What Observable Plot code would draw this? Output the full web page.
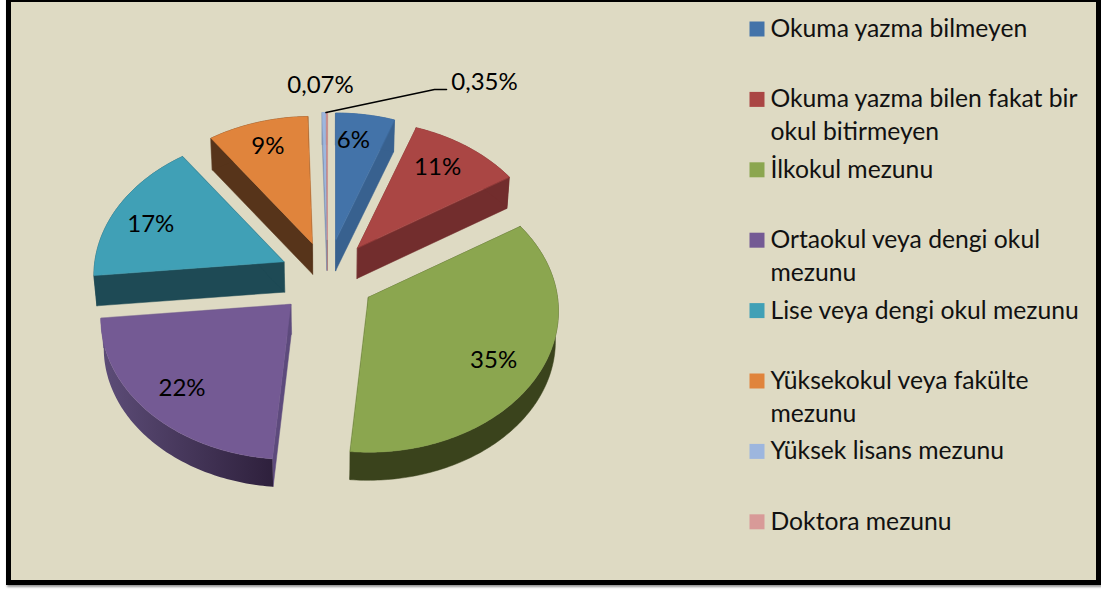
<!DOCTYPE html>
<html lang="tr">
<head>
<meta charset="utf-8">
<script src="https://cdn.jsdelivr.net/npm/d3@7"></script>
<script src="https://cdn.jsdelivr.net/npm/@observablehq/plot@0.6"></script>
<style>
html,body{margin:0;padding:0;background:#fff;overflow:hidden}
#frame{position:absolute;left:6px;top:-3px;width:1085px;height:578px;border:5px solid #000;background:#dedac3;box-shadow:1px 2px 2px #999}
#chart{position:absolute;left:0;top:0}
</style>
</head>
<body>
<div id="frame"></div>
<div id="chart"></div>
<script>
// ---- data ----
const categories = ["Okuma yazma bilmeyen","Okuma yazma bilen fakat bir okul bitirmeyen","İlkokul mezunu","Ortaokul veya dengi okul mezunu","Lise veya dengi okul mezunu","Yüksekokul veya fakülte mezunu","Yüksek lisans mezunu","Doktora mezunu"];
const legendLines = [["Okuma yazma bilmeyen"],["Okuma yazma bilen fakat bir","okul bitirmeyen"],["İlkokul mezunu"],["Ortaokul veya dengi okul","mezunu"],["Lise veya dengi okul mezunu"],["Yüksekokul veya fakülte","mezunu"],["Yüksek lisans mezunu"],["Doktora mezunu"]];
const shares = [5.5, 10.5, 35.3, 22, 16.7, 9.4, 0.35, 0.07];
const shareLabels = ["6%","11%","35%","22%","17%","9%","0,35%","0,07%"];
const topColors = ["#4373a9","#aa4644","#8ba64f","#745a94","#40a0b6","#e0843c","#9db6de","#d89a98"];
const wallColors = ["#38618f","#722d2d","#3a431c","#5d4a7c","#1e4a55","#57341a","#7e92b2","#ad7b7a"];

// ---- pie geometry (3D projection with perspective) ----
const FONT = "Lato, Carlito, sans-serif";
const centre = {x: 327, y: 277}, explode = {x: 48, y: 38};
const radiusX = 189, radiusY = 139.6, persp = 0.099;
const apexNudge = [[0,0],[0,0],[0,0],[-3,0],[0,0],[0,2],[0,0],[0,0]];
const labelNudge = [[-6,0],[-7,0],[-6,4],[1,2],[-3,6],[-1,-1]];
const project = (a, rho) => {
  const u = rho * Math.sin(a), v = rho * Math.cos(a), d = 1 + persp * v;
  return {dx: radiusX * u / d, dy: -radiusY * v / d};
};
const total = d3.sum(shares);
let acc = 0;
const slices = shares.map((s, i) => {
  const a0 = acc / total * 2 * Math.PI; acc += s;
  const a1 = acc / total * 2 * Math.PI, mid = (a0 + a1) / 2;
  const apex = {x: centre.x + explode.x * Math.sin(mid) + apexNudge[i][0], y: centre.y - explode.y * Math.cos(mid) + apexNudge[i][1]};
  const n = Math.max(2, Math.ceil((a1 - a0) * 60));
  const arc = d3.range(n + 1).map(k => {
    const p = project(a0 + (a1 - a0) * k / n, 1);
    return {x: apex.x + p.dx, y: apex.y + p.dy};
  });
  return {i, a0, a1, mid, apex, arc};
});
// the lower face of the pie is slightly smaller (perspective)
const down = p => ({x: p.x + (centre.x - p.x) * 0.013, y: p.y + 33.5 - 0.012 * p.y});
const poly = (pts, fill, stroke = fill) => Plot.line(pts, {x: "x", y: "y", fill, stroke, strokeWidth: 0.5, curve: "linear-closed"});

const pieMarks = [];
// paint back to front: top slices first, front slices last
[6, 7, 5, 0, 1, 4, 3, 2].forEach(i => {
  const s = slices[i], first = s.arc[0], last = s.arc[s.arc.length - 1];
  pieMarks.push(poly([s.apex, first, down(first), down(s.apex)], wallColors[i]));
  pieMarks.push(poly([s.apex, last, down(last), down(s.apex)], wallColors[i]));
  const wall = i === 3 ? "url(#purpleWall)" : wallColors[i];
  pieMarks.push(poly([...s.arc, ...s.arc.map(down).reverse()], wall, i === 3 ? "none" : wall));
  pieMarks.push(poly([s.apex, ...s.arc], topColors[i]));
});

// labels inside the slices
const insideLabels = slices.slice(0, 6).map(s => {
  const p = project(s.mid, 0.78);
  return {x: s.apex.x + p.dx + labelNudge[s.i][0], y: s.apex.y + p.dy + labelNudge[s.i][1], text: shareLabels[s.i]};
});
// callouts for the two very thin slices
const thin = slices[6];
const calloutLabels = [
  {x: 320, y: 85, text: shareLabels[7]},
  {x: 484, y: 82, text: shareLabels[6]}
];
const leader = [thin.arc[thin.arc.length - 1], {x: 434, y: 89}, {x: 446, y: 89}];

// legend
const rowY = i => 28.5 + 70.4 * i;
const legendSwatches = categories.map((c, i) => ({x: 756.5, y: rowY(i), c: topColors[i]}));
const legendText = legendLines.flatMap((lines, i) => lines.map((t, j) => ({x: 770, y: rowY(i) + j * 33, t})));

const plot = Plot.plot({
  width: 1101, height: 590,
  margin: 0,
  x: {domain: [0, 1101], range: [0, 1101], axis: null},
  y: {domain: [0, 590], range: [0, 590], axis: null},
  style: {background: "transparent", fontFamily: FONT},
  marks: [
    () => {
      const ns = "http://www.w3.org/2000/svg";
      const defs = document.createElementNS(ns, "defs");
      defs.innerHTML = `<linearGradient id="purpleWall" x1="0" x2="1" y1="0" y2="0"><stop offset="0" stop-color="#5d4d78"/><stop offset="1" stop-color="#2e203c"/></linearGradient>`;
      return defs;
    },
    ...pieMarks,
    Plot.line(leader, {x: "x", y: "y", stroke: "#000", strokeWidth: 1.6}),
    Plot.text([...insideLabels, ...calloutLabels], {x: "x", y: "y", text: "text", fontSize: 24, fill: "#000", textAnchor: "middle", lineAnchor: "middle"}),
    Plot.dot(legendSwatches, {x: "x", y: "y", symbol: "square", r: 8.46, fill: d => d.c, stroke: "none"}),
    Plot.text(legendText, {x: "x", y: "y", text: "t", fontSize: 24.7, fill: "#111", textAnchor: "start", lineAnchor: "middle"})
  ]
});
document.getElementById("chart").appendChild(plot);
</script>
</body>
</html>
